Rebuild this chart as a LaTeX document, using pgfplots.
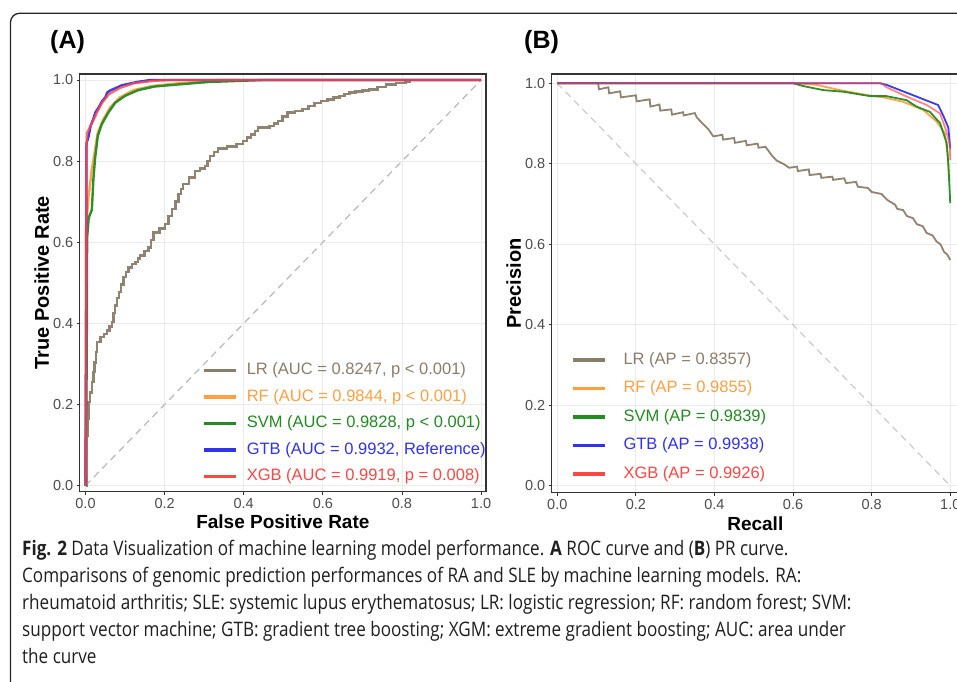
\documentclass[border=0pt]{standalone}
\usepackage{fontspec}
\setmainfont{Liberation Sans}
\newfontfamily\capfont[FakeStretch=0.855]{Open Sans}
\usepackage{pgfplots}
\pgfplotsset{compat=1.18}

\definecolor{lrc}{RGB}{139,125,107}
\definecolor{rfc}{RGB}{255,160,64}
\definecolor{svmc}{RGB}{34,139,34}
\definecolor{gtbc}{RGB}{50,50,235}
\definecolor{xgbc}{RGB}{255,70,70}
\definecolor{gridc}{RGB}{235,235,235}
\definecolor{framec}{RGB}{51,51,51}
\definecolor{tickc}{RGB}{77,77,77}

\pgfplotsset{
  panel/.style={
    scale only axis,
    axis line style={draw=framec, line width=1.1pt},
    grid=major,
    major grid style={draw=gridc, line width=0.8pt},
    xtick={0,0.2,0.4,0.6,0.8,1}, ytick={0,0.2,0.4,0.6,0.8,1},
    xticklabels={0.0,0.2,0.4,0.6,0.8,1.0},
    yticklabels={0.0,0.2,0.4,0.6,0.8,1.0},
    tick align=outside, major tick length=3pt,
    tick style={draw=framec, line width=0.8pt},
    xtick pos=left, ytick pos=left,
    tick label style={font=\fontsize{14.5}{16}\selectfont, text=tickc},
    xlabel style={font=\bfseries\fontsize{19}{21}\selectfont},
    ylabel style={font=\bfseries\fontsize{20}{22}\selectfont},
    ylabel shift=-3pt,
    legend cell align=left,
    legend image code/.code={\draw[#1, line width=3.6pt, opacity=1] (0pt,0pt) -- (32pt,0pt);},
    legend style={draw=none, fill=none, anchor=north west, inner sep=0pt,
      font=\fontsize{16.5}{18}\selectfont, row sep=11pt,
      nodes={inner sep=0pt, text height=12pt, text depth=3.5pt}},
  }
}

\begin{document}
\begin{tikzpicture}
\useasboundingbox (0pt,0pt) rectangle (957pt,681pt);
\clip (0pt,0pt) rectangle (957pt,681pt);
\fill[white] (0pt,0pt) rectangle (957pt,681pt);

% outer frame
\draw[line width=1.3pt, rounded corners=9pt, black!85] (10.5pt,-20pt) -- (10.5pt,667.7pt) -- (1000pt,667.7pt);

% panel tags
\node[anchor=west, inner sep=0pt, font=\bfseries\fontsize{25}{28}\selectfont] at (50pt,639.3pt) {(A)};
\node[anchor=west, inner sep=0pt, font=\bfseries\fontsize{25}{28}\selectfont] at (524pt,639.3pt) {(B)};

% ---------------- Panel A: ROC ----------------
\begin{axis}[panel,
  at={(79.7pt,189.5pt)}, anchor=south west,
  width=406.3pt, height=417.5pt,
  xmin=-0.0147, xmax=1.0125, ymin=-0.0145, ymax=1.0148,
  xlabel={False Positive Rate}, ylabel={True Positive Rate},
  legend style={at={(0.300,0.309)}, column sep=9.4pt},
]
\addplot[gray!55, dash pattern=on 7pt off 5pt, line width=1.2pt, forget plot] coordinates {(0,0) (1,1)};

\addplot[lrc, line width=2.4pt, opacity=0.95, const plot] coordinates {
(0,0) (0.002,0.05) (0.003,0.124) (0.006,0.165) (0.008,0.206) (0.012,0.23) (0.017,0.255)
(0.020,0.28) (0.023,0.304) (0.026,0.33) (0.029,0.354) (0.038,0.366) (0.047,0.374)
(0.055,0.382) (0.061,0.392) (0.067,0.403) (0.071,0.425) (0.075,0.444)
(0.080,0.462) (0.084,0.477) (0.090,0.496) (0.096,0.514) (0.103,0.527) (0.109,0.538)
(0.118,0.546) (0.126,0.551) (0.132,0.560) (0.138,0.567) (0.149,0.578)
(0.159,0.587) (0.165,0.606) (0.172,0.624) (0.187,0.634) (0.201,0.645) (0.210,0.664)
(0.218,0.682) (0.227,0.700) (0.235,0.719) (0.241,0.731)
(0.247,0.743) (0.262,0.760) (0.277,0.776) (0.290,0.782) (0.302,0.788) (0.308,0.800)
(0.314,0.813) (0.325,0.823) (0.335,0.831) (0.358,0.836)
(0.382,0.842) (0.398,0.850) (0.409,0.858) (0.419,0.866) (0.428,0.875) (0.436,0.883)
(0.465,0.887) (0.476,0.893) (0.486,0.899) (0.498,0.910) (0.511,0.920) (0.530,0.924)
(0.549,0.928) (0.564,0.936) (0.579,0.944) (0.595,0.948) (0.612,0.952)
(0.627,0.957) (0.642,0.961) (0.655,0.965) (0.667,0.969) (0.683,0.972) (0.700,0.974)
(0.717,0.977) (0.738,0.983) (0.759,0.989) (0.785,0.992)
(0.809,0.995) (0.82,1.0) (1.0,1.0)};
\addlegendentry{\textcolor{lrc}{LR (AUC = 0.8247, p < 0.001)}}

\addplot[rfc, line width=2.4pt, opacity=0.95] coordinates {
(0,0) (0.001,0.3) (0.001,0.633) (0.008,0.714) (0.016,0.780) (0.023,0.821)
(0.031,0.870) (0.045,0.903) (0.062,0.932) (0.087,0.957) (0.121,0.975)
(0.167,0.985) (0.234,0.992) (0.309,0.996) (0.33,1.0) (1.0,1.0)};
\addlegendentry{\textcolor{rfc}{RF (AUC = 0.9844, p < 0.001)}}

\addplot[svmc, line width=2.4pt, opacity=0.95] coordinates {
(0,0) (0.003,0.3) (0.004,0.61) (0.008,0.66) (0.016,0.68) (0.020,0.756)
(0.024,0.805) (0.031,0.862) (0.041,0.891) (0.058,0.920) (0.075,0.944)
(0.1,0.961) (0.133,0.975) (0.175,0.984) (0.234,0.989) (0.309,0.995)
(0.45,1.0) (1.0,1.0)};
\addlegendentry{\textcolor{svmc}{SVM (AUC = 0.9828, p < 0.001)}}

\addplot[gtbc, line width=2.4pt, opacity=0.95] coordinates {
(0,0) (0.002,0.5) (0.002,0.829) (0.003,0.845) (0.008,0.862) (0.013,0.887)
(0.020,0.905) (0.025,0.920) (0.033,0.932) (0.042,0.948) (0.050,0.957)
(0.055,0.969) (0.062,0.974) (0.092,0.987) (0.13,0.995) (0.164,1.0) (1.0,1.0)};
\addlegendentry{\textcolor{gtbc}{GTB (AUC = 0.9932, Reference)}}

\addplot[xgbc, line width=2.4pt, opacity=0.8] coordinates {
(0,0) (0.002,0.5) (0.002,0.821) (0.004,0.870) (0.017,0.895) (0.029,0.920)
(0.042,0.944) (0.059,0.965) (0.088,0.981) (0.122,0.992) (0.172,0.998)
(0.214,1.0) (1.0,1.0)};
\addlegendentry{\textcolor{xgbc}{XGB (AUC = 0.9919, p = 0.008)}}
\end{axis}

% ---------------- Panel B: PR ----------------
\begin{axis}[panel,
  at={(551.7pt,188.3pt)}, anchor=south west,
  width=407.2pt, height=418.7pt,
  xmin=-0.0142, xmax=1.022, ymin=-0.017, ymax=1.023,
  xlabel={Recall}, ylabel={Precision},
  legend style={at={(0.0467,0.336)}, column sep=17pt, row sep=13pt},
]
\addplot[gray!40, dash pattern=on 7pt off 5pt, line width=1.2pt, forget plot] coordinates {(0,1) (1,0)};

\addplot[lrc, line width=1.8pt, opacity=0.95] coordinates {
(0,1) (0.104,1) (0.106,0.985) (0.13,0.99) (0.132,0.975) (0.16,0.98) (0.162,0.965)
(0.2,0.97) (0.202,0.955) (0.235,0.96) (0.237,0.942) (0.26,0.947) (0.262,0.932)
(0.29,0.935) (0.292,0.922) (0.32,0.928) (0.322,0.92) (0.35,0.926) (0.355,0.915)
(0.37,0.9) (0.385,0.885) (0.397,0.868) (0.42,0.872) (0.422,0.86) (0.45,0.864)
(0.452,0.852) (0.48,0.857) (0.482,0.846) (0.51,0.85) (0.512,0.84) (0.53,0.842)
(0.545,0.822) (0.558,0.808) (0.575,0.8) (0.59,0.79) (0.61,0.793) (0.612,0.782)
(0.64,0.786) (0.642,0.772) (0.67,0.775) (0.672,0.765) (0.70,0.768) (0.702,0.76)
(0.73,0.764) (0.735,0.752) (0.76,0.755) (0.765,0.743) (0.79,0.74) (0.80,0.73)
(0.825,0.725) (0.84,0.71) (0.86,0.698) (0.865,0.688) (0.88,0.685) (0.89,0.67)
(0.905,0.665) (0.915,0.65) (0.93,0.645) (0.94,0.628) (0.955,0.622) (0.965,0.607)
(0.975,0.6) (0.985,0.58) (0.992,0.575) (1.0,0.561)};
\addlegendentry{\textcolor{lrc}{LR (AP = 0.8357)}}

\addplot[rfc, line width=1.8pt, opacity=0.95] coordinates {
(0,1) (0.609,1) (0.66,0.996) (0.719,0.983) (0.787,0.971) (0.83,0.965)
(0.88,0.954) (0.931,0.934) (0.965,0.905) (0.986,0.876) (0.993,0.826) (0.997,0.768)};
\addlegendentry{\textcolor{rfc}{RF (AP = 0.9855)}}

\addplot[svmc, line width=1.8pt, opacity=0.95] coordinates {
(0,1) (0.6,1) (0.626,0.993) (0.677,0.983) (0.728,0.979) (0.796,0.968)
(0.838,0.968) (0.889,0.958) (0.914,0.942) (0.948,0.929) (0.974,0.901)
(0.991,0.851) (0.995,0.801) (1.0,0.702)};
\addlegendentry{\textcolor{svmc}{SVM (AP = 0.9839)}}

\addplot[gtbc, line width=1.8pt, opacity=0.95] coordinates {
(0,1) (0.821,1) (0.838,0.996) (0.872,0.983) (0.914,0.967) (0.948,0.954)
(0.969,0.946) (0.982,0.920) (0.995,0.890) (1.0,0.838)};
\addlegendentry{\textcolor{gtbc}{GTB (AP = 0.9938)}}

\addplot[xgbc, line width=1.8pt, opacity=0.65] coordinates {
(0,1) (0.825,1) (0.838,0.990) (0.889,0.967) (0.94,0.946) (0.974,0.925)
(0.989,0.884) (0.999,0.847) (1.0,0.809)};
\addlegendentry{\textcolor{xgbc}{XGB (AP = 0.9926)}}
\end{axis}

% caption
\begin{scope}[every node/.style={anchor=base west, inner sep=0pt, text=black!88, font=\capfont\fontsize{20}{22}\selectfont}]
\node at (22pt,126pt) {\textbf{Fig. 2} Data Visualization of machine learning model performance. \textbf{A} ROC curve and (\textbf{B}) PR curve.};
\node at (22pt,99pt) {Comparisons of genomic prediction performances of RA and SLE by machine learning models. RA:};
\node at (22pt,72pt) {rheumatoid arthritis; SLE: systemic lupus erythematosus; LR: logistic regression; RF: random forest; SVM:};
\node at (22pt,45pt) {support vector machine; GTB: gradient tree boosting; XGM: extreme gradient boosting; AUC: area under};
\node at (22pt,18pt) {the curve};
\end{scope}
\end{tikzpicture}
\end{document}
